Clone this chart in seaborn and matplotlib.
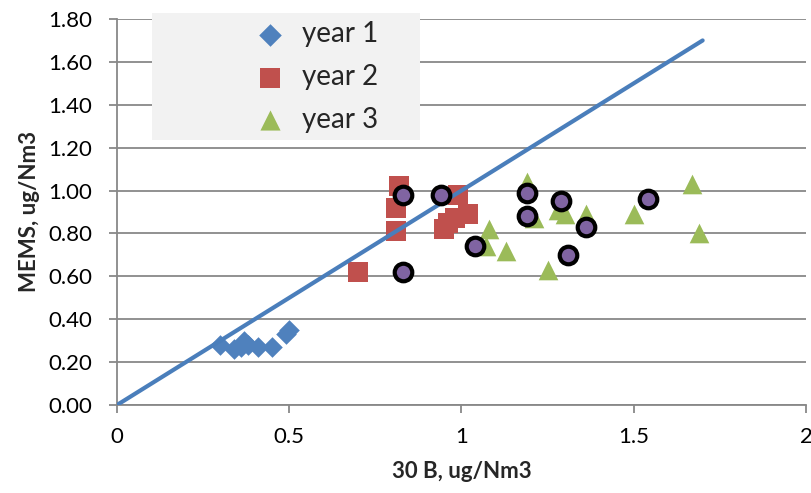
import numpy as np
import pandas as pd
import seaborn as sns
import matplotlib.pyplot as plt
from matplotlib.patches import Rectangle

# year 1 (diamonds)
y1_x = [0.30, 0.34, 0.36, 0.37, 0.38, 0.41, 0.45, 0.49, 0.50]
y1_y = [0.28, 0.26, 0.27, 0.30, 0.28, 0.27, 0.27, 0.33, 0.35]
# year 2 (squares)
y2_x = [0.70, 0.81, 0.81, 0.82, 0.95, 0.96, 0.98, 0.99, 1.02]
y2_y = [0.62, 0.81, 0.92, 1.02, 0.82, 0.85, 0.87, 0.98, 0.89]
# year 3 (triangles)
y3_x = [1.07, 1.08, 1.13, 1.19, 1.21, 1.25, 1.28, 1.30, 1.36, 1.50, 1.67, 1.69]
y3_y = [0.74, 0.82, 0.72, 1.04, 0.87, 0.63, 0.91, 0.89, 0.89, 0.89, 1.03, 0.80]
# highlighted points (purple circles)
hl_x = [0.83, 0.94, 0.83, 1.04, 1.19, 1.19, 1.29, 1.36, 1.31, 1.54]
hl_y = [0.98, 0.98, 0.62, 0.74, 0.99, 0.88, 0.95, 0.83, 0.70, 0.96]
# 1:1 line
line_x = [0.0, 1.7]
line_y = [0.0, 1.7]

years = ["year 1", "year 2", "year 3"]

df = pd.DataFrame({
    "x": y1_x + y2_x + y3_x,
    "y": y1_y + y2_y + y3_y,
    "year": [years[0]] * len(y1_x) + [years[1]] * len(y2_x) + [years[2]] * len(y3_x),
})
hl = pd.DataFrame({"x": hl_x, "y": hl_y})
ln = pd.DataFrame({"x": line_x, "y": line_y})

sns.set_theme(style="white")
plt.rcParams["font.family"] = ["Lato", "DejaVu Sans"]

fig = plt.figure(figsize=(8.12, 4.93), dpi=100)
ax = fig.add_axes([117 / 812, 1 - 405 / 493, 689 / 812, 386 / 493])

palette = {"year 1": "#4F81BD", "year 2": "#C0504D", "year 3": "#9BBB59"}
markers = {"year 1": "D", "year 2": "s", "year 3": "^"}
sizes = {"year 1": 110, "year 2": 190, "year 3": 200}
leg_ms = {"year 1": 11.5, "year 2": 14, "year 3": 14.5}

for yr in years:
    sub = df[df["year"] == yr]
    sns.scatterplot(data=sub, x="x", y="y", color=palette[yr], marker=markers[yr],
                    s=sizes[yr], linewidth=0, label=yr, ax=ax, zorder=3)

sns.lineplot(data=ln, x="x", y="y", color="#4A7EBB", linewidth=3, ax=ax, zorder=4)

sns.scatterplot(data=hl, x="x", y="y", color="#8064A2", edgecolor="black",
                linewidth=3, s=160, ax=ax, zorder=5, legend=False)

ax.set_xlim(0, 2)
ax.set_ylim(0, 1.8)
ax.set_xticks([0, 0.5, 1, 1.5, 2])
ax.set_xticklabels(["0", "0.5", "1", "1.5", "2"])
ax.set_yticks(np.arange(0, 1.81, 0.2))
ax.set_yticklabels([f"{v:.2f}" for v in np.arange(0, 1.81, 0.2)])

grid_c = "#888888"
ax.yaxis.grid(True, color=grid_c, linewidth=1.3)
ax.xaxis.grid(False)
ax.set_axisbelow(True)
for s in ["top", "right"]:
    ax.spines[s].set_visible(False)
for s in ["left", "bottom"]:
    ax.spines[s].set_color(grid_c)
    ax.spines[s].set_linewidth(1.3)
ax.tick_params(axis="both", direction="out", length=6, width=1.3, color=grid_c,
               labelsize=16, labelcolor="black", left=True, bottom=True)
ax.tick_params(axis="y", pad=12)
ax.tick_params(axis="x", pad=10)

ax.set_xlabel("30 B, ug/Nm3", fontsize=16, fontweight="bold", labelpad=10)
ax.set_ylabel("MEMS, ug/Nm3", fontsize=16, fontweight="bold", labelpad=6)

# legend background box
ax.add_patch(Rectangle((152 / 812, 1 - 140 / 493), 268 / 812, 127 / 493,
                       transform=fig.transFigure, facecolor="#F2F2F2",
                       edgecolor="none", zorder=2.5, clip_on=False))

handles, labels = ax.get_legend_handles_labels()
leg = ax.legend(handles[:3], labels[:3], loc="center left",
                bbox_to_anchor=(256 / 812, 1 - 77 / 493),
                bbox_transform=fig.transFigure, frameon=False, fontsize=20,
                borderpad=0, borderaxespad=0, handlelength=1.0,
                handletextpad=0.65, labelspacing=0.6)
leg.set_zorder(6)
for h, yr in zip(leg.legend_handles, labels[:3]):
    if hasattr(h, "set_markersize"):
        h.set_markersize(leg_ms[yr])
    else:
        h.set_sizes([leg_ms[yr] ** 2])

fig.savefig("out.png", dpi=100)
